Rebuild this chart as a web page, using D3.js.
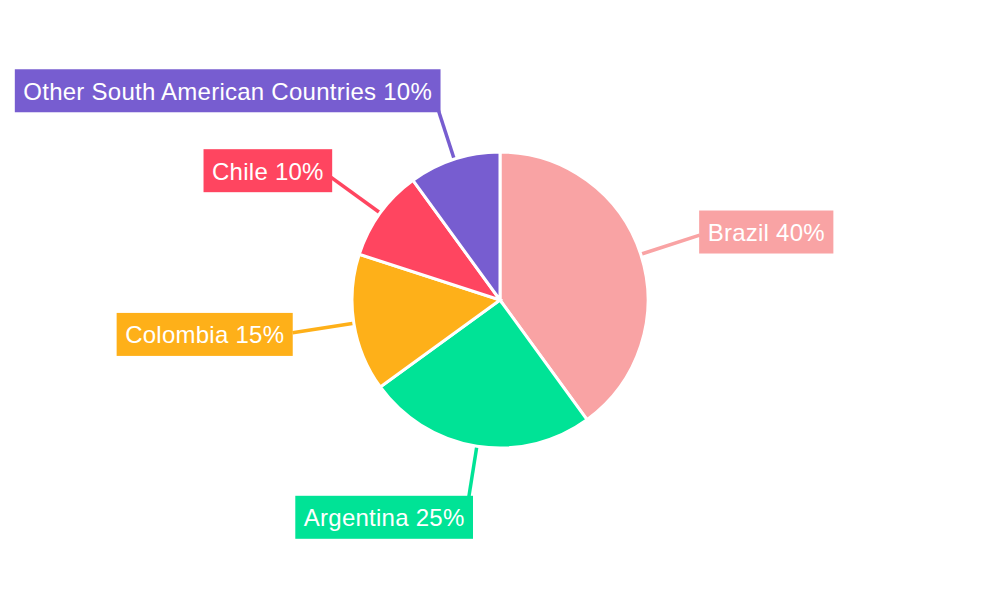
<!DOCTYPE html>
<html>
<head>
<meta charset="utf-8">
<script src="https://cdn.jsdelivr.net/npm/d3@7"></script>
<style>
  body { margin: 0; background: #fff; }
  svg { font-family: "Liberation Sans", Arial, sans-serif; }
</style>
</head>
<body>
<svg id="chart"></svg>
<script>
// chart data
const countries = ["Brazil", "Argentina", "Colombia", "Chile", "Other South American Countries"];
const shares = [40, 25, 15, 10, 10];
const sliceColors = ["#F9A3A4", "#00E396", "#FEB019", "#FF4560", "#775DD0"];

const width = 1000;
const height = 600;
const cx = 500, cy = 300;
const radius = 148;
const labelRadius = 210;

const svg = d3.select("#chart")
  .attr("width", width)
  .attr("height", height);

const g = svg.append("g")
  .attr("transform", `translate(${cx}, ${cy})`);

const data = countries.map((c, i) => ({ name: c, value: shares[i], color: sliceColors[i] }));

const pie = d3.pie()
  .value(d => d.value)
  .sort(null);

const arcs = pie(data);

const arc = d3.arc()
  .innerRadius(0)
  .outerRadius(radius);

// point on circle at a given angle (0 = top, clockwise)
const polar = (r, a) => [r * Math.sin(a), -r * Math.cos(a)];

// leader lines
g.selectAll("line.leader")
  .data(arcs)
  .join("line")
  .attr("class", "leader")
  .attr("x1", d => polar(radius, (d.startAngle + d.endAngle) / 2)[0])
  .attr("y1", d => polar(radius, (d.startAngle + d.endAngle) / 2)[1])
  .attr("x2", d => polar(labelRadius, (d.startAngle + d.endAngle) / 2)[0])
  .attr("y2", d => polar(labelRadius, (d.startAngle + d.endAngle) / 2)[1])
  .attr("stroke", d => d.data.color)
  .attr("stroke-width", 3.5);

// slices
g.selectAll("path.slice")
  .data(arcs)
  .join("path")
  .attr("class", "slice")
  .attr("d", arc)
  .attr("fill", d => d.data.color)
  .attr("stroke", "#fff")
  .attr("stroke-width", 3);

// labels with coloured boxes
const pad = 8.5;
const boxH = 43;
const labels = g.selectAll("g.label")
  .data(arcs)
  .join("g")
  .attr("class", "label");

labels.each(function(d) {
  const a = (d.startAngle + d.endAngle) / 2;
  const [lx, ly] = polar(labelRadius, a);
  const right = Math.sin(a) >= 0;
  const sel = d3.select(this);
  const rect = sel.append("rect").attr("fill", d.data.color);
  const txt = sel.append("text")
    .attr("fill", "#fff")
    .style("font-size", "24px")
    .style("letter-spacing", "0.25px")
    .text(`${d.data.name} ${d.data.value}%`);
  const tw = txt.node().getComputedTextLength();
  const boxW = tw + pad * 2;
  const shift = 6 * Math.cos(a) * Math.cos(a);
  const bx = right ? lx - shift : lx + shift - boxW;
  const bcy = ly - 10 * Math.cos(a);
  rect.attr("x", bx).attr("y", bcy - boxH / 2)
    .attr("width", boxW).attr("height", boxH);
  txt.attr("x", bx + pad).attr("y", bcy + 9);
});
</script>
</body>
</html>
